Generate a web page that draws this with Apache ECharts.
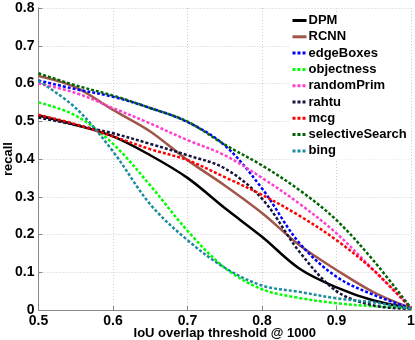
<!DOCTYPE html>
<html><head><meta charset="utf-8">
<script src="https://cdn.jsdelivr.net/npm/echarts@6/dist/echarts.min.js"></script>
<style>html,body{margin:0;padding:0;background:#fff}#c{width:415px;height:340px}</style>
</head><body><div id="c"></div>
<script>
const thresholds = [0.5,0.55,0.6,0.65,0.7,0.75,0.8,0.85,0.9,0.95,1.0];
const xTicks = ['0.5','0.6','0.7','0.8','0.9','1'];
const yTicks = ['0','0.1','0.2','0.3','0.4','0.5','0.6','0.7','0.8'];
const DPM            = [0.515,0.49,0.46,0.41,0.35,0.27,0.194,0.11,0.06,0.025,0.005];
const RCNN           = [0.62,0.59,0.53,0.473,0.397,0.33,0.257,0.172,0.106,0.047,0.005];
const edgeBoxes      = [0.608,0.585,0.565,0.535,0.498,0.436,0.322,0.178,0.088,0.04,0.005];
const objectness     = [0.55,0.515,0.44,0.33,0.21,0.112,0.055,0.032,0.018,0.01,0.005];
const randomPrim     = [0.60,0.575,0.535,0.494,0.45,0.41,0.35,0.282,0.203,0.105,0.005];
const rahtu          = [0.51,0.49,0.468,0.44,0.41,0.375,0.295,0.155,0.05,0.012,0.003];
const mcg            = [0.517,0.492,0.46,0.426,0.397,0.352,0.305,0.25,0.185,0.105,0.005];
const selectiveSearch= [0.627,0.595,0.568,0.535,0.499,0.438,0.383,0.318,0.238,0.13,0.005];
const bing           = [0.607,0.535,0.42,0.28,0.185,0.112,0.065,0.048,0.031,0.02,0.003];

const names = ['DPM','RCNN','edgeBoxes','objectness','randomPrim','rahtu','mcg','selectiveSearch','bing'];
const values = [DPM,RCNN,edgeBoxes,objectness,randomPrim,rahtu,mcg,selectiveSearch,bing];
const colors = ['#000000','#a0574a','#0000ff','#00ff00','#ff3fd0','#14143c','#ff0000','#006400','#1a8c9c'];
const solid = [true,true,false,false,false,false,false,false,false];

const F = '"Liberation Sans", Arial, sans-serif';
const series = names.map((n,i)=>({
  name:n, type:'line', symbol:'none', showSymbol:false, smooth:0.35, z:2+i,
  data: thresholds.map((t,j)=>[t, values[i][j]]),
  lineStyle:{color:colors[i], width:2.5, type: solid[i]?'solid':[3,2]},
  itemStyle:{color:colors[i]}
}));
const chart = echarts.init(document.getElementById('c'));
chart.setOption({
  animation:false,
  backgroundColor:'#fff',
  grid:{left:38.5,right:4,top:8,bottom:30,containLabel:false,outerBoundsMode:'none'},
  xAxis:{type:'value',min:0.5,max:1,interval:0.1,
    name:'IoU overlap threshold @ 1000',nameLocation:'middle',nameGap:17,nameMoveOverlap:false,
    nameTextStyle:{fontFamily:F,fontWeight:'bold',fontSize:13,color:'#000'},
    axisLine:{lineStyle:{color:'#888',width:1}},
    axisTick:{inside:true,length:4,lineStyle:{color:'#888'}},
    axisLabel:{margin:4,fontFamily:F,fontWeight:'bold',fontSize:14,color:'#000',
      formatter:v=>xTicks[Math.round((v-0.5)*10)]},
    splitLine:{show:true,lineStyle:{type:[1,2],color:'#ccc'}}},
  yAxis:{type:'value',min:0,max:0.8,interval:0.1,
    name:'recall',nameLocation:'middle',nameGap:24,nameRotate:90,nameMoveOverlap:false,
    nameTextStyle:{fontFamily:F,fontWeight:'bold',fontSize:13,color:'#000'},
    axisLine:{show:true,lineStyle:{color:'#888',width:1}},
    axisTick:{show:true,inside:true,length:4,lineStyle:{color:'#888'}},
    axisLabel:{margin:4,fontFamily:F,fontWeight:'bold',fontSize:14,color:'#000',
      formatter:v=>yTicks[Math.round(v*10)]},
    splitLine:{show:true,lineStyle:{type:[1,2],color:'#ccc'}}},
  legend:{orient:'vertical',left:289,top:12,itemWidth:14,itemHeight:10,itemGap:3.3,
    padding:[2,4,2,2],backgroundColor:'#fff',
    itemStyle:{opacity:0},
    lineStyle:{width:3},
    textStyle:{fontFamily:F,fontWeight:'bold',fontSize:13,color:'#000',padding:[0,0,0,-3]},
    data:names},
  series:series
});
</script></body></html>
